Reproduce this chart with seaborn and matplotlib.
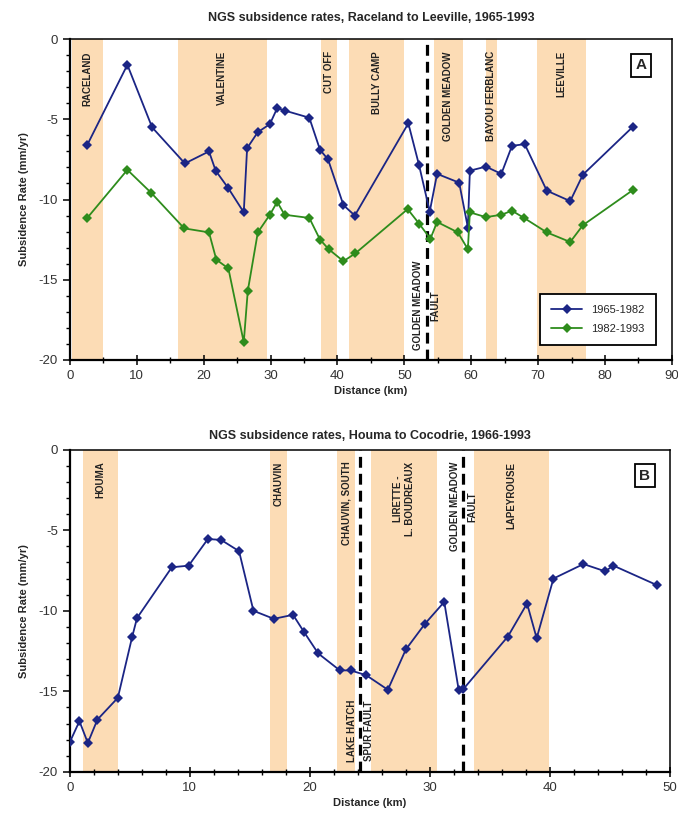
import numpy as np
import pandas as pd
import matplotlib
matplotlib.use("Agg")
import matplotlib.pyplot as plt
import seaborn as sns

sns.set_theme(style="white")
plt.rcParams["font.family"] = ["Liberation Sans", "DejaVu Sans"]
plt.rcParams["axes.unicode_minus"] = False

# --- Panel A: Raceland to Leeville ---
a_dist_6582 = [2.6, 8.6, 12.3, 17.2, 20.8, 21.8, 23.7, 26.0, 26.5, 28.1, 29.9, 31.0, 32.1, 35.8, 37.4, 38.6,
               40.9, 42.6, 50.6, 52.2, 53.8, 54.9, 58.2, 59.5, 59.8, 62.2, 64.5, 66.1, 68.0, 71.3, 74.8, 76.7, 84.2]
a_rate_6582 = [-6.6, -1.6, -5.5, -7.75, -7.0, -8.2, -9.3, -10.8, -6.8, -5.8, -5.3, -4.3, -4.45, -4.9, -6.9, -7.5,
               -10.35, -11.0, -5.25, -7.85, -10.75, -8.4, -8.95, -11.75, -8.2, -7.95, -8.4, -6.65, -6.55, -9.45, -10.1, -8.45, -5.45]
a_dist_8293 = [2.6, 8.6, 12.2, 17.1, 20.8, 21.9, 23.7, 26.0, 26.6, 28.1, 29.9, 31.0, 32.1, 35.8, 37.4, 38.7,
               40.9, 42.7, 50.5, 52.2, 53.9, 54.9, 58.0, 59.5, 59.8, 62.2, 64.5, 66.1, 67.9, 71.3, 74.8, 76.7, 84.2]
a_rate_8293 = [-11.15, -8.15, -9.6, -11.8, -12.05, -13.75, -14.3, -18.9, -15.7, -12.05, -10.95, -10.15, -10.95, -11.15, -12.5, -13.1,
               -13.85, -13.35, -10.6, -11.5, -12.45, -11.4, -12.05, -13.1, -10.8, -11.1, -10.95, -10.7, -11.15, -12.05, -12.65, -11.6, -9.4]
a_bands = [("RACELAND", 0.3, 4.9), ("VALENTINE", 16.2, 29.4), ("CUT OFF", 37.5, 39.9),
           ("BULLY CAMP", 41.8, 49.9), ("GOLDEN MEADOW", 54.4, 58.8), ("BAYOU FERBLANC", 62.2, 63.8),
           ("LEEVILLE", 69.8, 77.2)]
a_fault_x = 53.4

# --- Panel B: Houma to Cocodrie ---
b_dist = [0, 0.8, 1.5, 2.3, 4.0, 5.2, 5.6, 8.5, 9.9, 11.5, 12.6, 14.1, 15.3, 17.0, 18.6, 19.5, 20.7,
          22.5, 23.4, 24.7, 26.5, 28.0, 29.6, 31.2, 32.4, 32.8, 36.5, 38.1, 38.9, 40.3, 42.8, 44.6, 45.3, 48.9]
b_rate = [-18.15, -16.85, -18.2, -16.75, -15.4, -11.6, -10.45, -7.3, -7.2, -5.55, -5.6, -6.3, -10.0, -10.5, -10.25, -11.3, -12.65,
          -13.7, -13.7, -14.0, -14.9, -12.4, -10.8, -9.45, -14.9, -14.85, -11.6, -9.55, -11.7, -8.0, -7.1, -7.55, -7.2, -8.4]
b_bands = [("HOUMA", 1.1, 4.0), ("CHAUVIN", 16.7, 18.1), ("CHAUVIN, SOUTH", 22.3, 23.75),
           ("LIRETTE -\nL. BOUDREAUX", 25.1, 30.6), ("LAPEYROUSE", 33.7, 39.9)]
b_fault_x = [24.2, 32.8]

BLUE = "#1b2585"
GREEN = "#2e8c1c"
PEACH = "#fcdcb5"

fig = plt.figure(figsize=(6.78, 8.16), dpi=100)
ax_a = fig.add_axes([0.103, 0.559, 0.888, 0.393])
ax_b = fig.add_axes([0.103, 0.054, 0.885, 0.395])


def style_axes(ax, xmax, xminor):
    ax.set_ylim(-20, 0)
    ax.set_xlim(0, xmax)
    ax.set_yticks(np.arange(-20, 1, 5))
    ax.set_yticks(np.arange(-20, 1, 1), minor=True)
    ax.set_xticks(np.arange(0, xmax + 1, 10))
    ax.set_xticks(np.arange(0, xmax + 0.1, xminor), minor=True)
    for s in ax.spines.values():
        s.set_color("black")
        s.set_linewidth(1.1)
    ax.spines["bottom"].set_linewidth(1.6)
    ax.spines["left"].set_linewidth(1.6)
    ax.tick_params(axis="both", which="both", color="black", labelcolor="#333333", labelsize=9.5)
    ax.tick_params(axis="x", which="major", direction="inout", length=7, width=1.1, bottom=True)
    ax.tick_params(axis="x", which="minor", direction="inout", length=5, width=1.0, bottom=True)
    ax.tick_params(axis="y", which="major", direction="out", length=5, width=1.1, left=True)
    ax.tick_params(axis="y", which="minor", direction="out", length=3, width=1.0, left=True)
    ax.set_xlabel("Distance (km)", fontsize=8, fontweight="bold", labelpad=3)
    ax.set_ylabel("Subsidence Rate (mm/yr)", fontsize=8, fontweight="bold", labelpad=7)


def draw_bands(ax, bands):
    for name, x0, x1 in bands:
        ax.axvspan(x0, x1, color=PEACH, lw=0, zorder=0)
        ax.text((x0 + x1) / 2, -0.75, name, rotation=90, ha="center", va="top",
                fontsize=7, fontweight="bold", color="#222222", zorder=1)


def panel_letter(ax, letter, x, y):
    ax.text(x, y, letter, transform=ax.transAxes, ha="center", va="center", fontsize=11,
            fontweight="bold", bbox=dict(boxstyle="square,pad=0.3", fc="white", ec="black", lw=1.3))


fault_style = dict(color="black", lw=2.3, linestyle=(0, (3.4, 1.9)), zorder=2)

# Panel A
df_a = pd.concat([
    pd.DataFrame({"dist": a_dist_6582, "rate": a_rate_6582, "period": "1965-1982"}),
    pd.DataFrame({"dist": a_dist_8293, "rate": a_rate_8293, "period": "1982-1993"}),
])
draw_bands(ax_a, a_bands)
ax_a.axvline(a_fault_x, **fault_style)
ax_a.text(a_fault_x, -19.4, "GOLDEN MEADOW\nFAULT", rotation=90, ha="center", va="bottom",
          multialignment="center", fontsize=7, fontweight="bold", linespacing=1.9, color="#222222")
sns.lineplot(data=df_a, x="dist", y="rate", hue="period", palette=[BLUE, GREEN], marker="D",
             markersize=5.5, markeredgewidth=0, linewidth=1.3, estimator=None, sort=False, ax=ax_a, zorder=3)
style_axes(ax_a, 90, 5)
ax_a.set_title("NGS subsidence rates, Raceland to Leeville, 1965-1993", fontsize=9, fontweight="bold", pad=13)
leg = ax_a.legend(loc="lower right", bbox_to_anchor=(0.973, 0.047), borderaxespad=0, fancybox=False,
                  edgecolor="black", framealpha=1, fontsize=8, handlelength=2.8, labelspacing=0.8,
                  borderpad=1.0, handletextpad=0.8)
leg.get_frame().set_linewidth(1.3)
panel_letter(ax_a, "A", 0.949, 0.919)

# Panel B
df_b = pd.DataFrame({"dist": b_dist, "rate": b_rate})
draw_bands(ax_b, b_bands)
for fx in b_fault_x:
    ax_b.axvline(fx, **fault_style)
ax_b.text(b_fault_x[1], -0.75, "GOLDEN MEADOW\nFAULT", rotation=90, ha="center", va="top",
          multialignment="center", fontsize=7, fontweight="bold", linespacing=1.9, color="#222222")
ax_b.text(b_fault_x[0], -19.4, "LAKE HATCH\nSPUR FAULT", rotation=90, ha="center", va="bottom",
          multialignment="center", fontsize=7, fontweight="bold", linespacing=1.9, color="#222222")
sns.lineplot(data=df_b, x="dist", y="rate", color=BLUE, marker="D", markersize=5.5, markeredgewidth=0,
             linewidth=1.3, estimator=None, sort=False, ax=ax_b, zorder=3)
style_axes(ax_b, 50, 2)
ax_b.set_title("NGS subsidence rates, Houma to Cocodrie, 1966-1993", fontsize=9, fontweight="bold", pad=8)
panel_letter(ax_b, "B", 0.958, 0.919)

fig.savefig("out.png", dpi=100)
